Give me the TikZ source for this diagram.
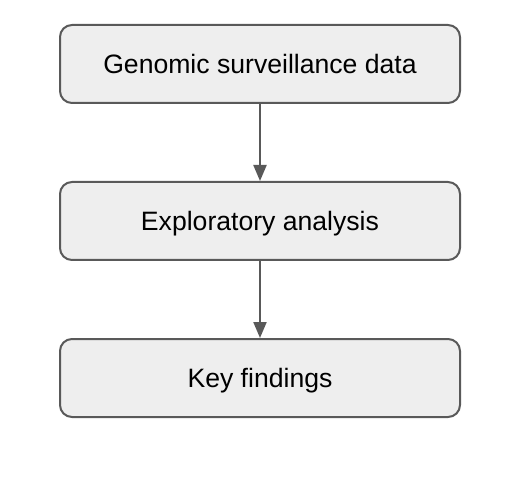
\documentclass[tikz,border=0pt]{standalone}
\usepackage{fontspec}
\setmainfont{Liberation Sans}
\usepackage{tikz}
\usetikzlibrary{positioning,arrows.meta}

\definecolor{boxfill}{HTML}{EEEEEE}
\definecolor{boxline}{HTML}{595959}

\begin{document}
\begin{tikzpicture}[x=1pt,y=-1pt,node distance=79pt,on grid,
    stage/.style={draw=boxline,fill=boxfill,line width=2pt,rounded corners=12pt,
      minimum width=400pt,minimum height=78pt,inner sep=0pt,
      text height=19.5pt,text depth=0pt,
      font=\fontsize{26.6}{30}\selectfont},
    link/.style={draw=boxline,line width=2.2pt,-{Triangle[length=16pt,width=13pt]}}]
    \useasboundingbox (0,0) rectangle (530,486);
    \node[stage] (data)                        at (260,64) {Genomic surveillance data};
    \node[stage] (analysis) [below=157pt of data]      {Exploratory analysis};
    \node[stage] (findings) [below=157pt of analysis]  {Key findings};
    % arrows between the stages
    \draw[link] (data) -- (analysis);
    \draw[link] (analysis) -- (findings);
  \end{tikzpicture}
\end{document}
